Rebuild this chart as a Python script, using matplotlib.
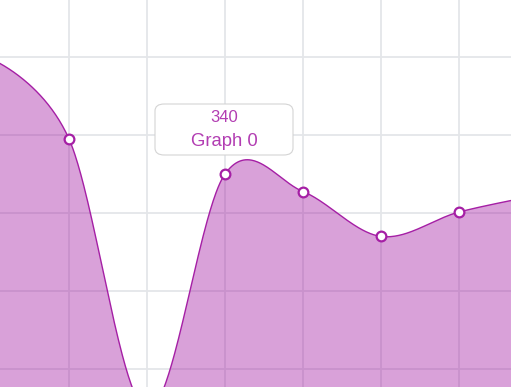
import numpy as np
import matplotlib
matplotlib.use("Agg")
import matplotlib.pyplot as plt
from matplotlib.patches import FancyBboxPatch

# ---- data ----
categories = [0, 1, 2, 3, 4, 5, 6, 7]
values = [458, 376, 98, 340, 322, 276, 301, 318]
tooltip_value = "340"
tooltip_series = "Graph 0"
y_ticks = [140, 220, 300, 380, 460]
x_ticks = [1, 2, 3, 4, 5, 6]

LINE = "#a51fa5"
FILL = "#a51fa5"
GRID = "#e4e6e9"

W, H = 511, 387
fig = plt.figure(figsize=(W / 100, H / 100), dpi=100)
ax = fig.add_axes([0, 0, 1, 1])

x0 = 9 / 78
x1 = 520 / 78
ytop = 340 + 174 * 80 / 78
ybot = 340 - 213 * 80 / 78
ax.set_xlim(x0, x1)
ax.set_ylim(ybot, ytop)


def catmull_rom(px, py, alpha=0.0, steps=80):
    """Catmull-Rom spline (d3.curveCatmullRom style), computed in screen-like units."""
    P = np.column_stack([px, py]).astype(float)
    n = len(P)
    out = [P[0:1]]
    u = np.linspace(0, 1, steps)[1:]
    for i in range(n - 1):
        p1, p2 = P[i], P[i + 1]
        p0 = P[i - 1] if i > 0 else None
        p3 = P[i + 2] if i + 2 < n else None
        l12 = np.hypot(*(p2 - p1)) ** alpha
        c1 = p1.copy()
        c2 = p2.copy()
        if p0 is not None:
            l01 = np.hypot(*(p1 - p0)) ** alpha
            a = 2 * l01 ** 2 + 3 * l01 * l12 + l12 ** 2
            nn = 3 * l01 * (l01 + l12)
            c1 = (p1 * a - p0 * l12 ** 2 + p2 * l01 ** 2) / nn
        if p3 is not None:
            l23 = np.hypot(*(p3 - p2)) ** alpha
            b = 2 * l23 ** 2 + 3 * l23 * l12 + l12 ** 2
            m = 3 * l23 * (l23 + l12)
            c2 = (p2 * b + p1 * l23 ** 2 - p3 * l12 ** 2) / m
        seg = ((1 - u) ** 3)[:, None] * p1 + (3 * (1 - u) ** 2 * u)[:, None] * c1 + \
              (3 * (1 - u) * u ** 2)[:, None] * c2 + (u ** 3)[:, None] * p2
        out.append(seg)
    return np.vstack(out)


sx = 78.0
sy = 78.0 / 80.0
curve = catmull_rom(np.array(categories) * sx, np.array(values) * sy)
xs = curve[:, 0] / sx
ys = curve[:, 1] / sy

ax.set_xticks(x_ticks)
ax.set_yticks(y_ticks)
ax.grid(True, color=GRID, linewidth=1.3, zorder=0)
ax.set_axisbelow(True)
ax.tick_params(length=0, labelbottom=False, labelleft=False)
for s in ax.spines.values():
    s.set_visible(False)

ax.fill_between(xs, ys, ybot - 200, color=FILL, alpha=0.42, linewidth=0, zorder=2)
ax.plot(xs, ys, color=LINE, linewidth=1.0, zorder=3)
ax.plot(categories, values, linestyle="none", marker="o", markersize=7,
        markerfacecolor="white", markeredgecolor=LINE, markeredgewidth=1.6, zorder=4)

# tooltip
bx0, by0, bw, bh = 155 / W, 1 - 155 / H, 138 / W, 51 / H
box = FancyBboxPatch((bx0, by0), bw, bh, boxstyle="round,pad=0,rounding_size=0.018",
                     transform=fig.transFigure, facecolor="white", edgecolor="#d4d4d4",
                     linewidth=0.8, zorder=10)
fig.patches.append(box)
fig.text(224 / W, 1 - 118 / H, tooltip_value, ha="center", va="center", fontsize=12,
         color="#b23db2", family=["Liberation Sans", "DejaVu Sans"], zorder=11)
fig.text(224 / W, 1 - 141 / H, tooltip_series, ha="center", va="center", fontsize=13.3,
         color="#b23db2", family=["Liberation Sans", "DejaVu Sans"], zorder=11)

fig.savefig("out.png", dpi=100)
